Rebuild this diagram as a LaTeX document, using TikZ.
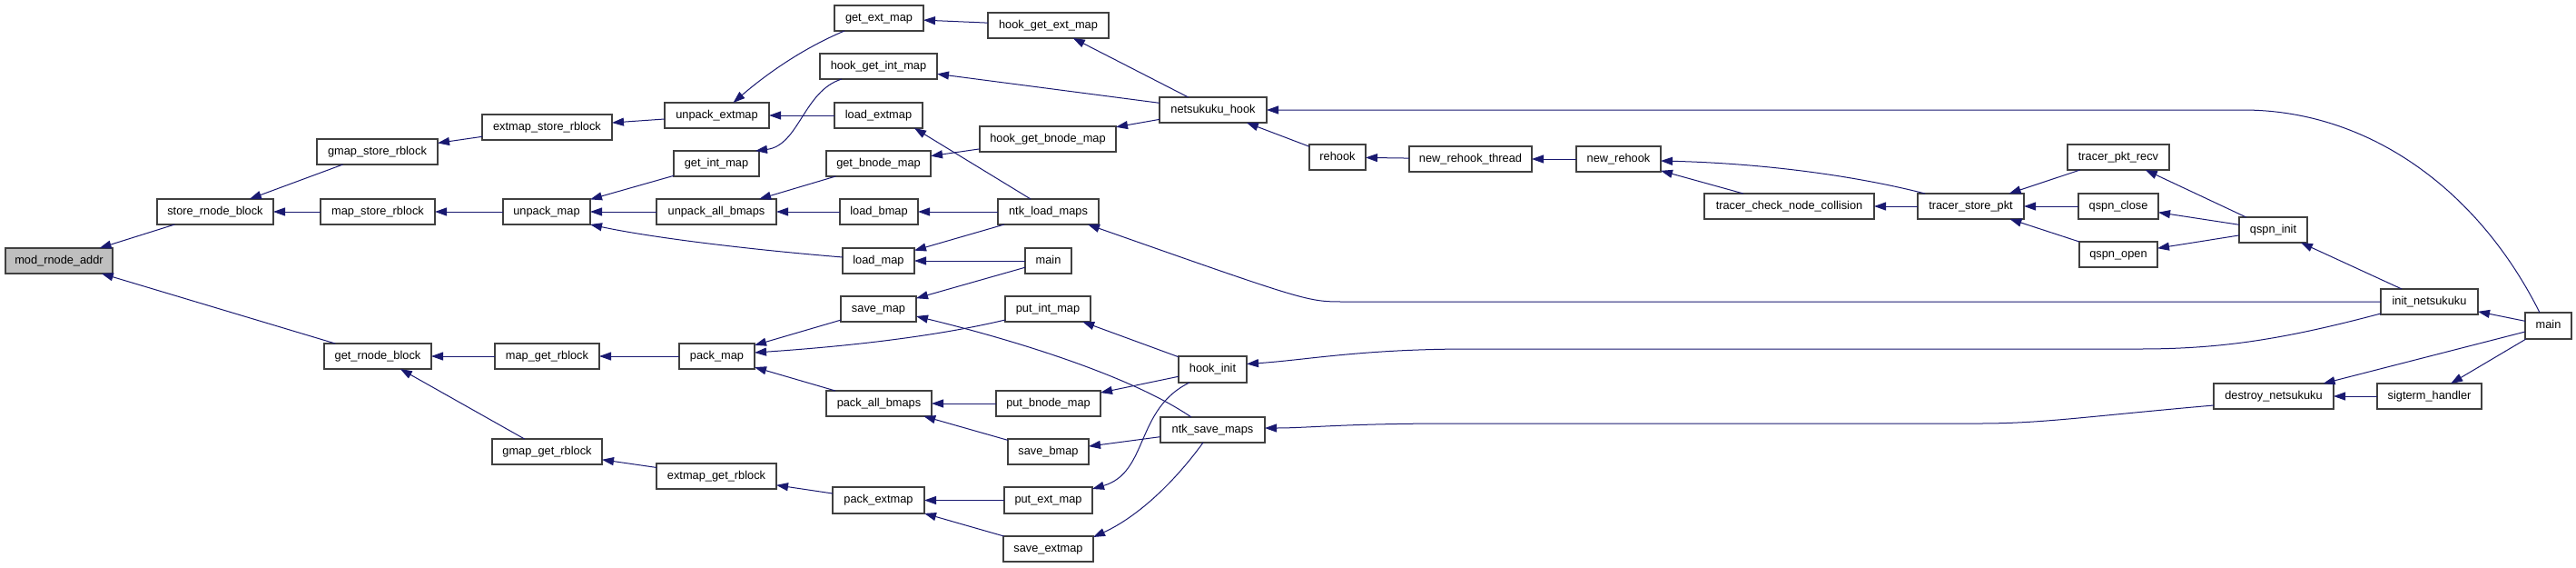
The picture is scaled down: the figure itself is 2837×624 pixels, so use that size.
\documentclass[tikz,border=0pt]{standalone}
\usepackage{fontspec}
\setmainfont{Liberation Sans}
\usetikzlibrary{arrows.meta,calc}
\definecolor{edgecol}{HTML}{191970}
\definecolor{boxcol}{HTML}{404040}
\definecolor{grayfill}{HTML}{BFBFBF}
\tikzset{
 fnbox/.style={draw=boxcol, fill=white, line width=1.2pt, rectangle, inner sep=0pt, outer sep=0pt,
   text height=9.2pt, text depth=3.2pt, font=\fontsize{12.8}{14}\selectfont},
 edge/.style={draw=edgecol, line width=1pt, -{Triangle[length=13pt,width=9pt]}},
}
\newcommand{\fnbx}[7][]{\node[fnbox,#1,minimum width={(#5-#3)*1pt},minimum height={(#6-#4)*1pt}] (#2) at ({(#3+#5)/2},{(#4+#6)/2}) {#7};}
\begin{document}
\begin{tikzpicture}[x=1pt,y=-1pt]
\useasboundingbox (0,0) rectangle (2837,624);
% nodes
\fnbx[fill=grayfill]{mra}{6}{273}{124}{301}{mod\_rnode\_addr}
\fnbx{srb}{173}{219}{301}{247}{store\_rnode\_block}
\fnbx{grb}{357}{378}{475}{406}{get\_rnode\_block}
\fnbx{gsr}{349}{153}{482}{181}{gmap\_store\_rblock}
\fnbx{msr}{353}{219}{479}{247}{map\_store\_rblock}
\fnbx{mgr}{545}{378}{660}{406}{map\_get\_rblock}
\fnbx{ggr}{542}{483}{663}{511}{gmap\_get\_rblock}
\fnbx{esr}{531}{126}{674}{154}{extmap\_store\_rblock}
\fnbx{um}{554}{219}{650}{247}{unpack\_map}
\fnbx{pm}{748}{378}{831}{406}{pack\_map}
\fnbx{egr}{723}{510}{855}{538}{extmap\_get\_rblock}
\fnbx{ue}{732}{113}{847}{141}{unpack\_extmap}
\fnbx{gim}{742}{166}{836}{194}{get\_int\_map}
\fnbx{uab}{723}{219}{855}{247}{unpack\_all\_bmaps}
\fnbx{gem}{919}{6}{1017}{34}{get\_ext\_map}
\fnbx{hgim}{903}{59}{1032}{87}{hook\_get\_int\_map}
\fnbx{le}{919}{113}{1016}{141}{load\_extmap}
\fnbx{gbm}{910}{166}{1025}{194}{get\_bnode\_map}
\fnbx{lb}{925}{219}{1011}{247}{load\_bmap}
\fnbx{lm}{928}{273}{1007}{301}{load\_map}
\fnbx{sm}{926}{326}{1009}{354}{save\_map}
\fnbx{pab}{910}{430}{1026}{458}{pack\_all\_bmaps}
\fnbx{pe}{917}{536}{1018}{565}{pack\_extmap}
\fnbx{hgem}{1088}{14}{1221}{42}{hook\_get\_ext\_map}
\fnbx{hgbm}{1079}{139}{1229}{167}{hook\_get\_bnode\_map}
\fnbx{ntk}{1099}{219}{1210}{247}{ntk\_load\_maps}
\fnbx{ml}{1129}{273}{1180}{301}{main}
\fnbx{pim}{1107}{326}{1201}{354}{put\_int\_map}
\fnbx{pbm}{1097}{430}{1212}{458}{put\_bnode\_map}
\fnbx{sb}{1110}{483}{1199}{511}{save\_bmap}
\fnbx{pem}{1106}{536}{1203}{565}{put\_ext\_map}
\fnbx{se}{1105}{590}{1204}{618}{save\_extmap}
\fnbx{nh}{1277}{107}{1395}{135}{netsukuku\_hook}
\fnbx{hi}{1298}{392}{1373}{421}{hook\_init}
\fnbx{nsm}{1278}{459}{1393}{487}{ntk\_save\_maps}
\fnbx{rh}{1442}{159}{1504}{187}{rehook}
\fnbx{nrt}{1552}{161}{1687}{189}{new\_rehook\_thread}
\fnbx{nr}{1736}{161}{1829}{189}{new\_rehook}
\fnbx{tcnc}{1877}{213}{2064}{241}{tracer\_check\_node\_collision}
\fnbx{tsp}{2112}{213}{2229}{241}{tracer\_store\_pkt}
\fnbx{tpr}{2277}{159}{2389}{187}{tracer\_pkt\_recv}
\fnbx{qc}{2289}{213}{2377}{241}{qspn\_close}
\fnbx{qo}{2290}{266}{2376}{294}{qspn\_open}
\fnbx{qi}{2466}{239}{2541}{267}{qspn\_init}
\fnbx{inet}{2622}{318}{2729}{346}{init\_netsukuku}
\fnbx{mr}{2781}{344}{2832}{373}{main}
\fnbx{dn}{2438}{422}{2570}{450}{destroy\_netsukuku}
\fnbx{sh}{2618}{422}{2733}{450}{sigterm\_handler}
% edges
\draw[edge] (srb) -- (mra);
\draw[edge] (grb) -- (mra);
\draw[edge] (gsr) -- (srb);
\draw[edge] (msr) -- (srb);
\draw[edge] (esr) -- (gsr);
\draw[edge] (ue) -- (esr);
\draw[edge] (um) -- (msr);
\draw[edge] ($(gem.south west)+(11,0)$) .. controls (880,55) and (840,85) .. ($(ue.north)+(18,0)$);
\draw[edge] (le) -- (ue);
\draw[edge] (gim) -- (um);
\draw[edge] (uab) -- (um);
\draw[edge] ($(lm.west)+(0,-4)$) .. controls (830,275) and (720,262) .. (um.south east);
\draw[edge] ($(hgim.south west)+(24,0)$) .. controls (885,100) and (880,160) .. ($(gim.north east)+(-4,0)$);
\draw[edge] (gbm) -- (uab);
\draw[edge] (lb) -- (uab);
\draw[edge] (hgem) -- (gem);
\draw[edge] (nh) -- (hgim);
\draw[edge] ($(ntk.north west)+(36,0)$) -- ($(le.south east)+(-9,0)$);
\draw[edge] (hgbm) -- (gbm);
\draw[edge] (ntk) -- (lb);
\draw[edge] (ntk) -- (lm);
\draw[edge] (ml) -- (lm);
\draw[edge] (nh) -- (hgem);
\draw[edge] (nh) -- (hgbm);
\draw[edge] (rh) -- (nh);
\draw[edge] ($(mr.north west)+(16,0)$) .. controls (2730,210) and (2610,121) .. (2470,121) -- (nh.east);
\draw[edge] (inet.west) -- (1480,332) .. controls (1440,332) .. ($(ntk.south east)+(-12,0)$);
\draw[edge] (nrt) -- (rh);
\draw[edge] (nr) -- (nrt);
\draw[edge] ($(tsp.north west)+(8,0)$) .. controls (2050,195) and (1950,180) .. ($(nr.east)+(0,2)$);
\draw[edge] (tcnc) -- (nr);
\draw[edge] (tsp) -- (tcnc);
\draw[edge] (tpr) -- (tsp);
\draw[edge] (qc) -- (tsp);
\draw[edge] (qo) -- (tsp);
\draw[edge] (qi) -- (tpr);
\draw[edge] (qi) -- (qc);
\draw[edge] (qi) -- (qo);
\draw[edge] (inet) -- (qi);
\draw[edge] (mr) -- (inet);
\draw[edge] (mgr) -- (grb);
\draw[edge] (ggr) -- (grb);
\draw[edge] (pm) -- (mgr);
\draw[edge] (egr) -- (ggr);
\draw[edge] (pe) -- (egr);
\draw[edge] (sm) -- (pm);
\draw[edge] ($(pim.south west)+(0,-2)$) .. controls (1040,368) and (950,380) .. ($(pm.east)+(0,-4)$);
\draw[edge] (pab) -- (pm);
\draw[edge] (ml) -- (sm);
\draw[edge] ($(nsm.north west)+(34,0)$) .. controls (1240,410) and (1100,370) .. ($(sm.east)+(0,8)$);
\draw[edge] (hi) -- (pim);
\draw[edge] ($(inet.south west)+(0,-1)$) .. controls (2520,372) and (2450,384) .. (2357,384) -- (1620,384) .. controls (1500,384) and (1440,396) .. ($(hi.east)+(0,-6)$);
\draw[edge] (pbm) -- (pab);
\draw[edge] (sb) -- (pab);
\draw[edge] (hi) -- (pbm);
\draw[edge] (nsm) -- (sb);
\draw[edge] (pem) -- (pe);
\draw[edge] (se) -- (pe);
\draw[edge] ($(hi.south west)+(12,0)$) .. controls (1250,450) and (1265,520) .. ($(pem.north east)+(0,2)$);
\draw[edge] ($(nsm.south west)+(47,0)$) .. controls (1290,535) and (1250,570) .. ($(se.north east)+(0,1)$);
\draw[edge] ($(dn.west)+(0,10)$) .. controls (2300,458) and (2250,466) .. (2180,466) -- (1600,466) .. controls (1480,466) and (1440,471) .. ($(nsm.east)+(0,-2)$);
\draw[edge] (mr) -- (dn);
\draw[edge] (sh) -- (dn);
\draw[edge] (mr) -- (sh);
\end{tikzpicture}
\end{document}
